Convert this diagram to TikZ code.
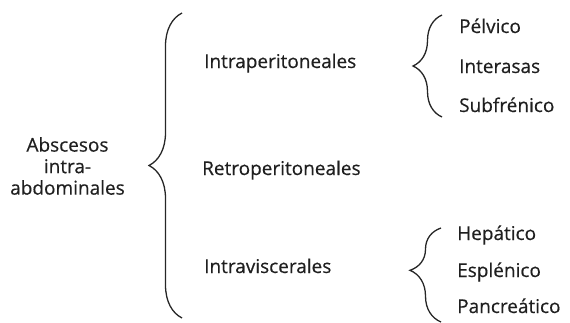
\documentclass[tikz,border=0pt]{standalone}
\usepackage{fontspec}
\setmainfont[FakeBold=0.4]{Open Sans}
\usetikzlibrary{decorations.pathreplacing}
\tikzset{
  lbl/.style={inner sep=0pt, font=\fontsize{19}{21.5}\selectfont, text=black!88},
  lft/.style={lbl, anchor=base west},
  brc/.style={decorate, line width=1.3pt, black!85, decoration={brace, amplitude=#1}},
}
\begin{document}
\begin{tikzpicture}[x=1pt,y=-1pt]
\useasboundingbox (0,0) rectangle (570,322);
\node[lbl, align=center] (root) at (67.5,166) {Abscesos\\intra-\\abdominales};
\coordinate (bigtop) at (182,13);
\coordinate (bigbot) at (182,318);
\draw[brc=33pt] (bigbot) -- (bigtop);
\node[lft] (intra) at (204,68) {Intraperitoneales};
\node[lft] (retro) at (202,175) {Retroperitoneales};
\node[lft] (visc) at (204,273) {Intraviscerales};
\coordinate (s1top) at (442,15);
\coordinate (s1bot) at (442,117);
\draw[brc=29pt] (s1bot) -- (s1top);
\node[lft] (pel) at (459,33) {Pélvico};
\node[lft] (inter) at (459,73) {Interasas};
\node[lft] (sub) at (459,112) {Subfrénico};
\coordinate (s2top) at (441,228);
\coordinate (s2bot) at (441,322);
\draw[decorate, line width=1.3pt, black!85, decoration={brace, amplitude=31pt, aspect=0.55}] (s2bot) -- (s2top);
\node[lft] (hep) at (457,240) {Hepático};
\node[lft] (esp) at (457,277) {Esplénico};
\node[lft] (pan) at (457,313) {Pancreático};
\end{tikzpicture}
\end{document}
